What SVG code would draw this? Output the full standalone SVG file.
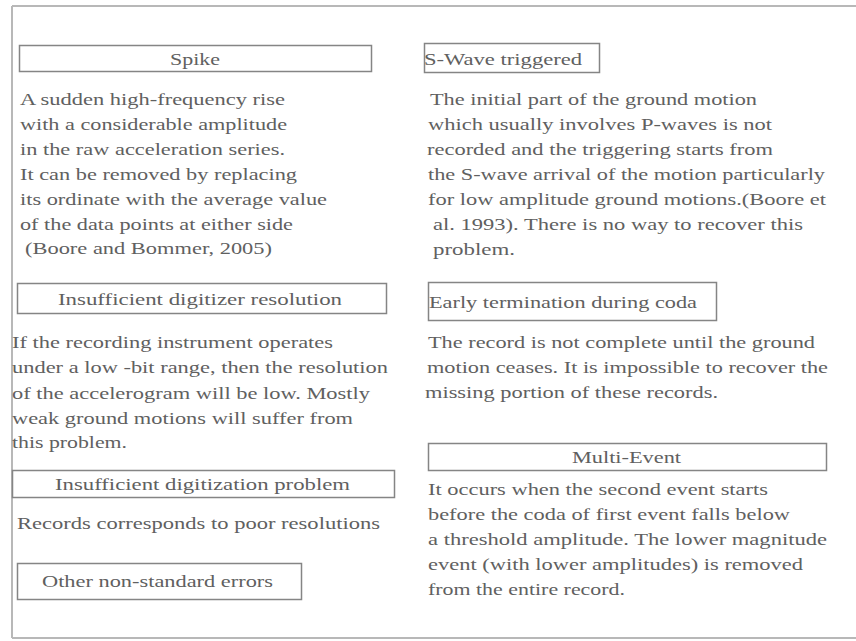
<svg xmlns="http://www.w3.org/2000/svg" width="856" height="641" viewBox="0 0 856 641">
<style>
.frame{stroke:#b8b8b8;stroke-width:2;fill:none}
.box{fill:#ffffff;stroke:#858585;stroke-width:1.5}
.t{font-family:"Liberation Serif","Times New Roman",serif;font-size:17.5px;fill:#606060}
</style>
<rect width="856" height="641" fill="#ffffff"/>
<g id="frame">
<line class="frame" x1="12" y1="6" x2="856" y2="6" stroke="#d4d4d4"/>
<line class="frame" x1="12" y1="6" x2="12" y2="638"/>
<line class="frame" x1="12" y1="638" x2="856" y2="638"/>
</g>
<g id="spike">
<rect class="box" x="19.5" y="45.5" width="352" height="26"/>
<text class="t" x="170" y="65" textLength="50" lengthAdjust="spacingAndGlyphs">Spike</text>
<text class="t" x="20" y="105" textLength="265" lengthAdjust="spacingAndGlyphs">A sudden high-frequency rise</text>
<text class="t" x="20" y="130" textLength="267" lengthAdjust="spacingAndGlyphs">with a considerable amplitude</text>
<text class="t" x="20" y="155" textLength="265" lengthAdjust="spacingAndGlyphs">in the raw acceleration series.</text>
<text class="t" x="20" y="180" textLength="277" lengthAdjust="spacingAndGlyphs">It can be removed by replacing</text>
<text class="t" x="20" y="205" textLength="307" lengthAdjust="spacingAndGlyphs">its ordinate with the average value</text>
<text class="t" x="20" y="230" textLength="273" lengthAdjust="spacingAndGlyphs">of the data points at either side</text>
<text class="t" x="25" y="254" textLength="247" lengthAdjust="spacingAndGlyphs">(Boore and Bommer, 2005)</text>
</g>
<g id="digitizer-resolution">
<rect class="box" x="17.5" y="283.5" width="369" height="30"/>
<text class="t" x="58" y="305" textLength="284" lengthAdjust="spacingAndGlyphs">Insufficient  digitizer resolution</text>
<text class="t" x="12" y="348" textLength="321" lengthAdjust="spacingAndGlyphs">If the recording instrument operates</text>
<text class="t" x="12" y="373" textLength="376" lengthAdjust="spacingAndGlyphs">under a low -bit range, then the resolution</text>
<text class="t" x="12" y="399" textLength="358" lengthAdjust="spacingAndGlyphs">of the accelerogram will be low. Mostly</text>
<text class="t" x="12" y="424" textLength="341" lengthAdjust="spacingAndGlyphs">weak ground motions will suffer from</text>
<text class="t" x="12" y="448" textLength="115" lengthAdjust="spacingAndGlyphs">this problem.</text>
</g>
<g id="digitization-problem">
<rect class="box" x="12.5" y="470.5" width="382" height="27"/>
<text class="t" x="55" y="490" textLength="295" lengthAdjust="spacingAndGlyphs">Insufficient  digitization problem</text>
<text class="t" x="17" y="529" textLength="363" lengthAdjust="spacingAndGlyphs">Records corresponds to poor resolutions</text>
</g>
<g id="other-errors">
<rect class="box" x="17.5" y="563.5" width="284" height="36"/>
<text class="t" x="42" y="587" textLength="231" lengthAdjust="spacingAndGlyphs">Other non-standard errors</text>
</g>
<g id="s-wave">
<rect class="box" x="424.5" y="43.5" width="175" height="29"/>
<text class="t" x="424" y="65" textLength="158" lengthAdjust="spacingAndGlyphs">S-Wave triggered</text>
<text class="t" x="430" y="105" textLength="327" lengthAdjust="spacingAndGlyphs">The initial part of the ground motion</text>
<text class="t" x="428" y="130" textLength="344" lengthAdjust="spacingAndGlyphs">which usually involves P-waves is not</text>
<text class="t" x="427" y="155" textLength="346" lengthAdjust="spacingAndGlyphs">recorded and the triggering starts from</text>
<text class="t" x="428" y="180" textLength="397" lengthAdjust="spacingAndGlyphs">the S-wave arrival of the motion particularly</text>
<text class="t" x="428" y="205" textLength="398" lengthAdjust="spacingAndGlyphs">for low amplitude ground motions.(Boore et</text>
<text class="t" x="433" y="230" textLength="370" lengthAdjust="spacingAndGlyphs">al. 1993). There is no way to recover this</text>
<text class="t" x="433" y="255" textLength="82" lengthAdjust="spacingAndGlyphs">problem.</text>
</g>
<g id="early-termination">
<rect class="box" x="428.5" y="282.5" width="288" height="38"/>
<text class="t" x="429" y="308" textLength="268" lengthAdjust="spacingAndGlyphs">Early termination during coda</text>
<text class="t" x="428" y="348" textLength="387" lengthAdjust="spacingAndGlyphs">The record is not complete until the ground</text>
<text class="t" x="427" y="373" textLength="401" lengthAdjust="spacingAndGlyphs">motion ceases. It is impossible to recover the</text>
<text class="t" x="425" y="398" textLength="293" lengthAdjust="spacingAndGlyphs">missing portion of these records.</text>
</g>
<g id="multi-event">
<rect class="box" x="428.5" y="443.5" width="398" height="27"/>
<text class="t" x="572" y="463" textLength="109" lengthAdjust="spacingAndGlyphs">Multi-Event</text>
<text class="t" x="428" y="495" textLength="340" lengthAdjust="spacingAndGlyphs">It occurs when the second event starts</text>
<text class="t" x="428" y="520" textLength="362" lengthAdjust="spacingAndGlyphs">before the coda of first event falls below</text>
<text class="t" x="428" y="545" textLength="399" lengthAdjust="spacingAndGlyphs">a threshold amplitude. The lower magnitude</text>
<text class="t" x="428" y="570" textLength="375" lengthAdjust="spacingAndGlyphs">event (with lower amplitudes) is removed</text>
<text class="t" x="428" y="595" textLength="197" lengthAdjust="spacingAndGlyphs">from the entire record.</text>
</g>
<g id="connectors"></g>
</svg>
